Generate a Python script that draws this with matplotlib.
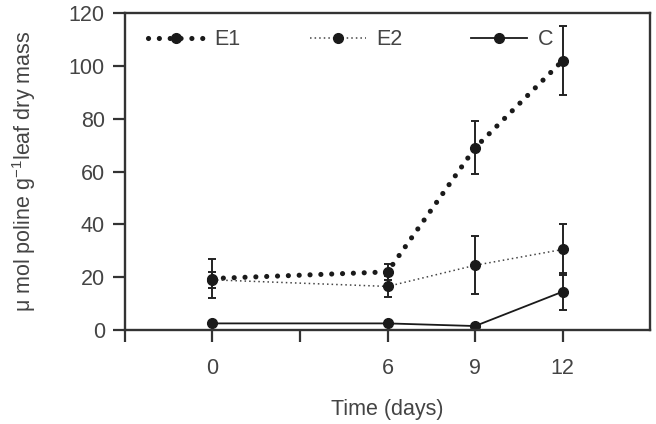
import matplotlib
matplotlib.use('Agg')
from matplotlib import pyplot as plt

days = [0, 6, 9, 12]
e1 = [19.5, 22, 69, 102]
e1_err = [7.5, 3, 10, 13]
e2 = [19, 16.5, 24.5, 30.5]
e2_err = [3, 4, 11, 9.5]
c = [2.5, 2.5, 1.5, 14.5]
c_err = [0.5, 0.5, 0.5, 7]

xticks = [-3, 0, 3, 6, 9, 12]
xtick_labels = ['', '0', '', '6', '9', '12']
yticks = [0, 20, 40, 60, 80, 100, 120]

txt = '#444444'
ink = '#1a1a1a'
plt.rcParams['font.family'] = ['Liberation Sans', 'DejaVu Sans']

fig = plt.figure(figsize=(6.56, 4.24), dpi=100)
ax = fig.add_axes([0.1905, 0.2217, 0.8005, 0.7473])

# error bars first, lines on top
for y, err in [(e1, e1_err), (e2, e2_err), (c, c_err)]:
    ax.errorbar(days, y, yerr=err, fmt='none', ecolor='#222222', elinewidth=1.4,
                capsize=3.2, capthick=1.4)

h1, = ax.plot(days, e1, color=ink, linestyle=(0, (0.01, 2.1)), linewidth=3.7,
              dash_capstyle='round', marker='o', markersize=7, label='E1')
h2, = ax.plot(days, e2, color='#444444', linestyle=(0, (1, 2)), linewidth=1.1,
              marker='o', markersize=7, markerfacecolor=ink, markeredgecolor=ink, label='E2')
h3, = ax.plot(days, c, color=ink, linestyle='-', linewidth=1.3,
              marker='o', markersize=7, label='C')

ax.set_xlim(-3, 15)
ax.set_ylim(0, 120)
ax.set_xticks(xticks)
ax.set_xticklabels(xtick_labels)
ax.set_yticks(yticks)
ax.tick_params(direction='out', length=8.5, width=1.6, labelsize=15.5, colors='#333333',
               labelcolor=txt)
ax.tick_params(axis='x', pad=12)
ax.tick_params(axis='y', pad=6)
for s in ax.spines.values():
    s.set_linewidth(1.7)
    s.set_color('#333333')

ax.set_xlabel('Time (days)', fontsize=15.5, color=txt, labelpad=14)
ax.set_ylabel('μ mol poline g$^{\\mathregular{-1}}$leaf dry mass', fontsize=15.5,
              color=txt, labelpad=22)

ax.legend(handles=[h1, h2, h3], loc='upper center', ncol=3, frameon=False, fontsize=15.5,
          handlelength=2.6, columnspacing=3.2, handletextpad=0.5, labelcolor=txt,
          bbox_to_anchor=(0.43, 1.01))

fig.savefig('out.png', dpi=100)
